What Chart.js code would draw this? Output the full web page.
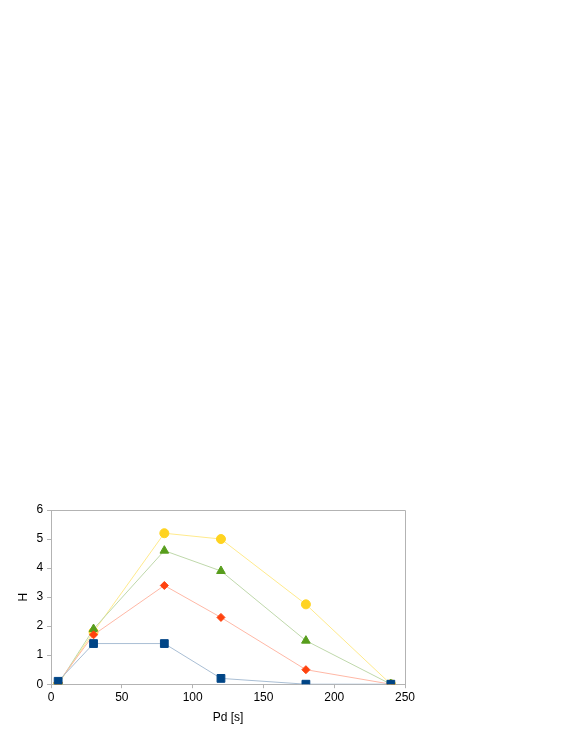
<!DOCTYPE html>
<html>
<head>
<meta charset="utf-8">
<script src="https://cdn.jsdelivr.net/npm/chart.js@4.4.0/dist/chart.umd.min.js"></script>
<style>
    html, body { margin: 0; padding: 0; background: #fff; }
    canvas { display: block; }
</style>
</head>
<body>
<canvas id="myChart" width="570" height="737"></canvas>
<script>
"use strict";

// x-värden (Pd [s])
const pd = [5, 30, 80, 120, 180, 240];

// serier (H)
const seriesBlue = [0.1, 1.4, 1.4, 0.2, 0, 0];
const seriesRed = [0.05, 1.7, 3.4, 2.3, 0.5, 0];
const seriesGreen = [0, 1.9, 4.6, 3.9, 1.5, 0];
const seriesYellow = [0, 1.8, 5.2, 5.0, 2.75, 0];

const xTicks = [0, 50, 100, 150, 200, 250];
const yTicks = [0, 1, 2, 3, 4, 5, 6];

function toPoints(values) {
    return values.map((v, i) => ({ x: pd[i], y: v }));
}

// ram runt plotytan (topp och höger)
const framePlugin = {
    id: "frame",
    beforeDatasetsDraw(chart) {
        const { ctx, chartArea } = chart;
        ctx.save();
        ctx.strokeStyle = "#b3b3b3";
        ctx.lineWidth = 1;
        ctx.beginPath();
        ctx.moveTo(Math.round(chartArea.left) + 0.5, Math.round(chartArea.top) + 0.5);
        ctx.lineTo(Math.round(chartArea.right) + 0.5, Math.round(chartArea.top) + 0.5);
        ctx.lineTo(Math.round(chartArea.right) + 0.5, Math.round(chartArea.bottom) + 0.5);
        ctx.stroke();
        ctx.restore();
    }
};

const ctx = document.getElementById("myChart").getContext("2d");
new Chart(ctx, {
    type: "line",
    data: {
        datasets: [
            {
                label: "A",
                data: toPoints(seriesBlue),
                borderColor: "#a9bed4",
                backgroundColor: "#004586",
                pointBorderColor: "#004586",
                pointStyle: "rect",
                pointRadius: 5.5,
                borderWidth: 1
            },
            {
                label: "B",
                data: toPoints(seriesRed),
                borderColor: "#ffb8a6",
                backgroundColor: "#ff420e",
                pointBorderColor: "#ff420e",
                pointStyle: "rectRot",
                pointRadius: 4,
                borderWidth: 1
            },
            {
                label: "C",
                data: toPoints(seriesGreen),
                borderColor: "#bfd8ab",
                backgroundColor: "#579d1c",
                pointBorderColor: "#579d1c",
                pointStyle: "triangle",
                pointRadius: 5,
                borderWidth: 1
            },
            {
                label: "D",
                data: toPoints(seriesYellow),
                borderColor: "#ffea8c",
                backgroundColor: "#ffd320",
                pointBorderColor: "#ffd320",
                pointStyle: "circle",
                pointRadius: 4.5,
                borderWidth: 1
            }
        ]
    },
    options: {
        responsive: false,
        animation: false,
        layout: {
            padding: { left: 16, top: 510, right: 165, bottom: 12 }
        },
        plugins: {
            legend: { display: false },
            tooltip: { enabled: false }
        },
        scales: {
            x: {
                type: "linear",
                min: 0,
                max: 250,
                afterBuildTicks: axis => { axis.ticks = xTicks.map(v => ({ value: v })); },
                grid: {
                    drawOnChartArea: false,
                    tickLength: 4,
                    color: "#b3b3b3"
                },
                border: { color: "#b3b3b3" },
                ticks: {
                    color: "#000",
                    font: { family: "Liberation Sans", size: 12 },
                    padding: 2,
                    maxRotation: 0
                },
                title: {
                    display: true,
                    text: "Pd [s]",
                    color: "#000",
                    font: { family: "Liberation Sans", size: 12 },
                    padding: { top: 4, bottom: 0 }
                }
            },
            y: {
                type: "linear",
                min: 0,
                max: 6,
                afterBuildTicks: axis => { axis.ticks = yTicks.map(v => ({ value: v })); },
                grid: {
                    drawOnChartArea: false,
                    tickLength: 4,
                    color: "#b3b3b3"
                },
                border: { color: "#b3b3b3" },
                ticks: {
                    color: "#000",
                    font: { family: "Liberation Sans", size: 12 },
                    padding: 4
                },
                title: {
                    display: true,
                    text: "H",
                    color: "#000",
                    font: { family: "Liberation Sans", size: 12 },
                    padding: { top: 0, bottom: 2 }
                }
            }
        }
    },
    plugins: [framePlugin]
});
</script>
</body>
</html>
